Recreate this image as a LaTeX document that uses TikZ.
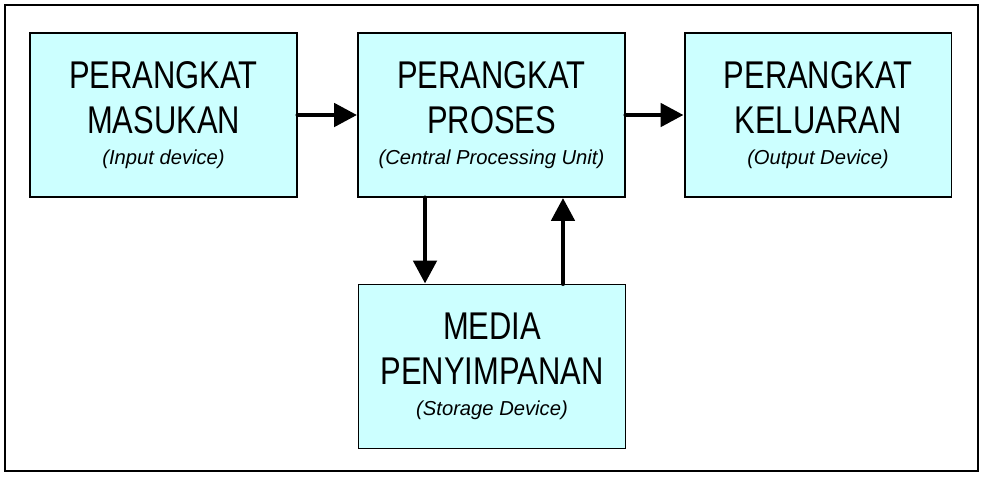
\documentclass[tikz,border=0pt]{standalone}
\usepackage{fontspec}
\setmainfont{Liberation Sans}
\newfontfamily\narrowsans[FakeStretch=0.8]{Liberation Sans}
\usetikzlibrary{arrows.meta}
\definecolor{boxcyan}{RGB}{204,255,255}
\newcommand{\notefont}{\normalfont\itshape\fontsize{11.5}{14}\selectfont}

\begin{document}
\begin{tikzpicture}[x=0.02cm, y=-0.02cm,
    unit/.style={draw, fill=boxcyan, line width=1.1pt, minimum width=5.34cm, minimum height=3.28cm,
      inner sep=0pt, align=center, font=\narrowsans\fontsize{22}{25.5}\selectfont},
    flow/.style={line width=2.8pt, line cap=round, -{Triangle[length=0.46cm, width=0.46cm]}}]
                \useasboundingbox (0,0) rectangle (987,484);
                % Outer frame
                \draw[line width=1.3pt] (5,5) rectangle (978,471);

                % Units
                \node[unit] (masukan) at (163.5,115) {PERANGKAT\\MASUKAN\\[-7.6pt]{\notefont (Input device)}};
                \node[unit] (proses) at (491.5,115) {PERANGKAT\\PROSES\\[-7.6pt]{\notefont (Central Processing Unit)}};
                \node[unit] (keluaran) at (818,115) {PERANGKAT\\KELUARAN\\[-7.6pt]{\notefont (Output Device)}};
                \node[unit] (simpan) at (492,366.5) {MEDIA\\PENYIMPANAN\\[-7.6pt]{\notefont (Storage Device)}};

                % Data flow
                \draw[flow] (masukan.east) -- (proses.west);
                \draw[flow] (proses.east) -- (keluaran.west);
                \draw[flow] ([xshift=-1.33cm]proses.south) -- ([xshift=-1.33cm]proses.south |- simpan.north);
                \draw[flow] ([xshift=1.43cm]proses.south |- simpan.north) -- ([xshift=1.43cm]proses.south);
            \end{tikzpicture}
\end{document}
